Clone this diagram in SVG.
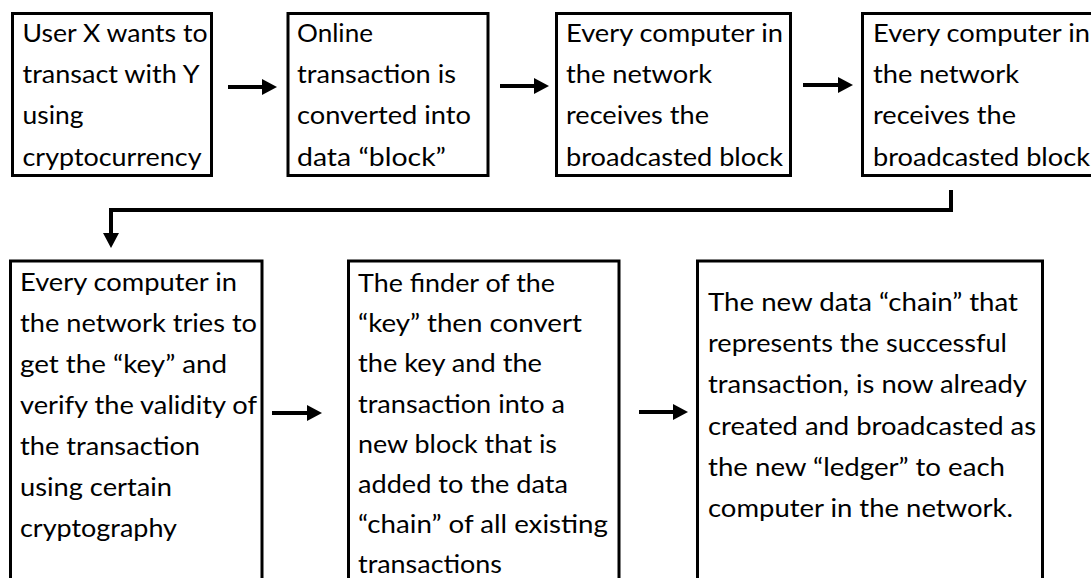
<svg xmlns="http://www.w3.org/2000/svg" width="1091" height="578" viewBox="0 0 1091 578">
  <style>
    .box { fill: #fff; stroke: #000; stroke-width: 3; }
    .t { font-family: Lato, "Liberation Sans", sans-serif; font-size: 24.5px; fill: #000; }
    .conn { fill: none; stroke: #000; stroke-width: 4; stroke-linejoin: miter; }
  </style>
  <defs>
    <marker id="head" markerUnits="userSpaceOnUse" markerWidth="15" markerHeight="16" refX="1" refY="8" orient="auto">
      <path d="M0,0 L15,8 L0,16 z" fill="#000"/>
    </marker>
  </defs>

  <rect width="1091" height="578" fill="#fff"/>

  <!-- top row -->
  <g id="node-user">
    <rect class="box" x="12.5" y="13.5" width="199" height="162"/>
    <text class="t" x="22.5" y="42" textLength="185" lengthAdjust="spacingAndGlyphs">User X wants to</text>
    <text class="t" x="22.5" y="83" textLength="177" lengthAdjust="spacingAndGlyphs">transact with Y</text>
    <text class="t" x="22.5" y="124" textLength="61" lengthAdjust="spacingAndGlyphs">using</text>
    <text class="t" x="22.5" y="165.5" textLength="179" lengthAdjust="spacingAndGlyphs">cryptocurrency</text>
  </g>

  <g id="node-block">
    <rect class="box" x="288" y="13.5" width="200" height="162"/>
    <text class="t" x="297" y="42" textLength="76" lengthAdjust="spacingAndGlyphs">Online</text>
    <text class="t" x="297" y="83" textLength="159" lengthAdjust="spacingAndGlyphs">transaction is</text>
    <text class="t" x="297" y="124" textLength="174" lengthAdjust="spacingAndGlyphs">converted into</text>
    <text class="t" x="297" y="165.5" textLength="149" lengthAdjust="spacingAndGlyphs">data “block”</text>
  </g>

  <g id="node-receive-1">
    <rect class="box" x="556.5" y="13.5" width="234" height="162"/>
    <text class="t" x="566" y="42" textLength="217" lengthAdjust="spacingAndGlyphs">Every computer in</text>
    <text class="t" x="566" y="83" textLength="146" lengthAdjust="spacingAndGlyphs">the network</text>
    <text class="t" x="566" y="124" textLength="143" lengthAdjust="spacingAndGlyphs">receives the</text>
    <text class="t" x="566" y="165.5" textLength="217" lengthAdjust="spacingAndGlyphs">broadcasted block</text>
  </g>

  <g id="node-receive-2">
    <rect class="box" x="862.5" y="13.5" width="240" height="162"/>
    <text class="t" x="873" y="42" textLength="217" lengthAdjust="spacingAndGlyphs">Every computer in</text>
    <text class="t" x="873" y="83" textLength="146" lengthAdjust="spacingAndGlyphs">the network</text>
    <text class="t" x="873" y="124" textLength="143" lengthAdjust="spacingAndGlyphs">receives the</text>
    <text class="t" x="873" y="165.5" textLength="217" lengthAdjust="spacingAndGlyphs">broadcasted block</text>
  </g>

  <!-- bottom row -->
  <g id="node-verify">
    <rect class="box" x="10.5" y="261" width="251.5" height="330"/>
    <text class="t" x="20" y="290.5" textLength="217" lengthAdjust="spacingAndGlyphs">Every computer in</text>
    <text class="t" x="20" y="331.6" textLength="237" lengthAdjust="spacingAndGlyphs">the network tries to</text>
    <text class="t" x="20" y="372.7" textLength="207" lengthAdjust="spacingAndGlyphs">get the “key” and</text>
    <text class="t" x="20" y="413.8" textLength="237" lengthAdjust="spacingAndGlyphs">verify the validity of</text>
    <text class="t" x="20" y="454.9" textLength="180" lengthAdjust="spacingAndGlyphs">the transaction</text>
    <text class="t" x="20" y="496" textLength="152" lengthAdjust="spacingAndGlyphs">using certain</text>
    <text class="t" x="20" y="537.1" textLength="157" lengthAdjust="spacingAndGlyphs">cryptography</text>
  </g>

  <g id="node-new-block">
    <rect class="box" x="348.5" y="261" width="270.5" height="330"/>
    <text class="t" x="358" y="292" textLength="197" lengthAdjust="spacingAndGlyphs">The finder of the</text>
    <text class="t" x="358" y="332.2" textLength="224" lengthAdjust="spacingAndGlyphs">“key” then convert</text>
    <text class="t" x="358" y="372.4" textLength="184" lengthAdjust="spacingAndGlyphs">the key and the</text>
    <text class="t" x="358" y="412.6" textLength="207" lengthAdjust="spacingAndGlyphs">transaction into a</text>
    <text class="t" x="358" y="452.8" textLength="199" lengthAdjust="spacingAndGlyphs">new block that is</text>
    <text class="t" x="358" y="493" textLength="210" lengthAdjust="spacingAndGlyphs">added to the data</text>
    <text class="t" x="358" y="533.2" textLength="250" lengthAdjust="spacingAndGlyphs">“chain” of all existing</text>
    <text class="t" x="358" y="573.4" textLength="144" lengthAdjust="spacingAndGlyphs">transactions</text>
  </g>

  <g id="node-ledger">
    <rect class="box" x="697.5" y="261" width="345" height="330"/>
    <text class="t" x="708" y="311" textLength="310" lengthAdjust="spacingAndGlyphs">The new data “chain” that</text>
    <text class="t" x="708" y="352.2" textLength="299" lengthAdjust="spacingAndGlyphs">represents the successful</text>
    <text class="t" x="708" y="393.4" textLength="319" lengthAdjust="spacingAndGlyphs">transaction, is now already</text>
    <text class="t" x="708" y="434.6" textLength="328" lengthAdjust="spacingAndGlyphs">created and broadcasted as</text>
    <text class="t" x="708" y="475.8" textLength="297" lengthAdjust="spacingAndGlyphs">the new “ledger” to each</text>
    <text class="t" x="708" y="517" textLength="305" lengthAdjust="spacingAndGlyphs">computer in the network.</text>
  </g>

  <!-- connectors -->
  <g id="connectors">
    <line class="conn" x1="228" y1="87" x2="263" y2="87" marker-end="url(#head)"/>
    <line class="conn" x1="500" y1="86" x2="535" y2="86" marker-end="url(#head)"/>
    <line class="conn" x1="803" y1="85" x2="839" y2="85" marker-end="url(#head)"/>
    <path class="conn" d="M951,190 V210 H111 V234" marker-end="url(#head)"/>
    <line class="conn" x1="272" y1="413" x2="308" y2="413" marker-end="url(#head)"/>
    <line class="conn" x1="639" y1="412" x2="674" y2="412" marker-end="url(#head)"/>
  </g>
</svg>
